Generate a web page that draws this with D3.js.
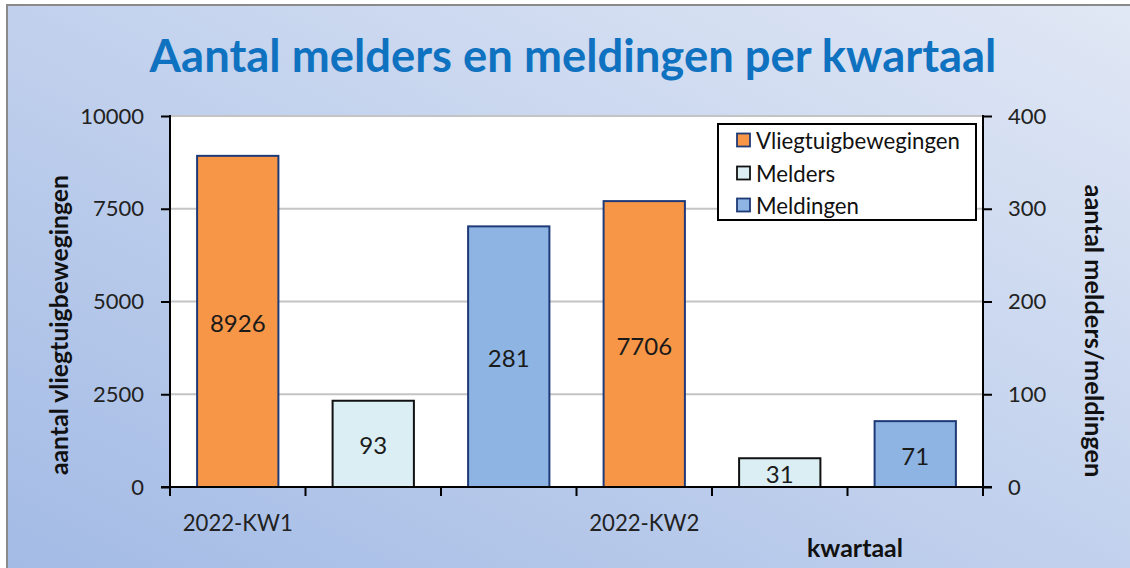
<!DOCTYPE html>
<html><head><meta charset="utf-8">
<script src="https://cdn.jsdelivr.net/npm/d3@7"></script>
<style>html,body{margin:0;padding:0;background:#fff;}svg{display:block;}</style>
</head><body>
<script>
const quarters = ["2022-KW1", "2022-KW2"];
const vliegtuigbewegingen = [8926, 7706];
const melders = [93, 31];
const meldingen = [281, 71];
const leftTicks = [0, 2500, 5000, 7500, 10000];
const rightTicks = [0, 100, 200, 300, 400];
const seriesNames = ["Vliegtuigbewegingen", "Melders", "Meldingen"];
const title = "Aantal melders en meldingen per kwartaal";

const W = 1130, H = 568;
const FONT = "Lato, 'Open Sans', sans-serif";
const colors = {Vliegtuigbewegingen: "#F79646", Melders: "#DAEEF3", Meldingen: "#8DB4E2"};
const strokes = {Vliegtuigbewegingen: "#1F3A78", Melders: "#111111", Meldingen: "#1F3A78"};

const svg = d3.select("body").append("svg").attr("width", W).attr("height", H);
const defs = svg.append("defs");
const grad = defs.append("linearGradient").attr("id", "bg")
  .attr("x1", "100%").attr("y1", "0%").attr("x2", "0%").attr("y2", "100%");
grad.append("stop").attr("offset", "0%").attr("stop-color", "#e1e8f5");
grad.append("stop").attr("offset", "100%").attr("stop-color", "#a2bae5");

svg.append("rect").attr("x", 0).attr("y", 0).attr("width", W).attr("height", H).attr("fill", "#ffffff");
svg.append("rect").attr("x", 7).attr("y", 5).attr("width", W + 10).attr("height", H + 10)
  .attr("fill", "url(#bg)").attr("stroke", "#8a8a8a").attr("stroke-width", 2);

const L = 170, R = 983, T = 116, B = 487;

function fit(sel, target) {
  let fs = parseFloat(sel.attr("font-size"));
  for (let i = 0; i < 3; i++) {
    const w = sel.node().getComputedTextLength();
    if (w > 0) { fs = fs * target / w; sel.attr("font-size", fs); }
  }
  return fs;
}

// slots: each quarter has three series
const slots = [];
quarters.forEach((q, qi) => {
  slots.push({q, qi, series: "Vliegtuigbewegingen", value: vliegtuigbewegingen[qi], axis: "L", id: q + "|0"});
  slots.push({q, qi, series: "Melders", value: melders[qi], axis: "R", id: q + "|1"});
  slots.push({q, qi, series: "Meldingen", value: meldingen[qi], axis: "R", id: q + "|2"});
});

const x = d3.scaleBand().domain(slots.map(d => d.id)).range([L, R]).paddingInner(0.4).paddingOuter(0.2);
const yL = d3.scaleLinear().domain([0, 10000]).range([B, T]);
const yR = d3.scaleLinear().domain([0, 400]).range([B, T]);

// plot area
svg.append("rect").attr("x", L).attr("y", T).attr("width", R - L).attr("height", B - T).attr("fill", "#ffffff");

// gridlines
svg.append("g").selectAll("line").data(leftTicks.filter(d => d > 0)).join("line")
  .attr("x1", L).attr("x2", R).attr("y1", d => yL(d)).attr("y2", d => yL(d))
  .attr("stroke", "#c4c4c4").attr("stroke-width", 1.8);

// bars
svg.append("g").selectAll("rect").data(slots).join("rect")
  .attr("x", d => x(d.id)).attr("width", x.bandwidth())
  .attr("y", d => (d.axis === "L" ? yL : yR)(d.value))
  .attr("height", d => B - (d.axis === "L" ? yL : yR)(d.value))
  .attr("fill", d => colors[d.series]).attr("stroke", d => strokes[d.series]).attr("stroke-width", 2);

// bar labels
svg.append("g").selectAll("text").data(slots).join("text")
  .attr("x", d => x(d.id) + x.bandwidth() / 2)
  .attr("y", d => ((d.axis === "L" ? yL : yR)(d.value) + B) / 2 + 1)
  .attr("text-anchor", "middle").attr("dominant-baseline", "central")
  .attr("font-family", FONT).attr("font-size", 24).attr("fill", "#1a1a1a")
  .text(d => d.value);

// axes
const axisColor = "#000";
const leftAxis = svg.append("g").attr("transform", `translate(${L},0)`)
  .call(d3.axisLeft(yL).tickValues(leftTicks).tickSize(9).tickPadding(17).tickFormat(d3.format("d")));
const rightAxis = svg.append("g").attr("transform", `translate(${R},0)`)
  .call(d3.axisRight(yR).tickValues(rightTicks).tickSize(9).tickPadding(16).tickFormat(d3.format("d")));
[leftAxis, rightAxis].forEach(a => {
  a.select(".domain").remove();
  a.selectAll(".tick line").attr("stroke", axisColor).attr("stroke-width", 2);
  a.selectAll(".tick text").attr("font-family", FONT).attr("font-size", 22).attr("fill", "#222");
});
svg.append("line").attr("x1", L).attr("x2", L).attr("y1", T - 1).attr("y2", B + 1).attr("stroke", axisColor).attr("stroke-width", 2);
svg.append("line").attr("x1", R).attr("x2", R).attr("y1", T - 1).attr("y2", B + 1).attr("stroke", axisColor).attr("stroke-width", 2);

// x axis line + ticks at slot boundaries
svg.append("line").attr("x1", L - 9).attr("x2", R + 9).attr("y1", B).attr("y2", B).attr("stroke", axisColor).attr("stroke-width", 2);
const step = x.step();
const bounds = d3.range(slots.length + 1).map(i => x(slots[0].id) - step * x.paddingOuter() + i * step);
svg.append("g").selectAll("line").data(bounds).join("line")
  .attr("x1", d => d).attr("x2", d => d).attr("y1", B).attr("y2", B + 9)
  .attr("stroke", axisColor).attr("stroke-width", 2);

// quarter labels under first slot of each quarter
const ql = svg.append("g").selectAll("text").data(quarters).join("text")
  .attr("x", (q) => x(q + "|0") + x.bandwidth() / 2)
  .attr("y", 531).attr("text-anchor", "middle")
  .attr("font-family", FONT).attr("font-size", 22).attr("fill", "#222").text(d => d);
const qfs = fit(d3.select(ql.nodes()[0]), 110);
ql.attr("font-size", qfs);

// title
const t = svg.append("text").attr("x", 573).attr("y", 72).attr("text-anchor", "middle")
  .attr("font-family", FONT).attr("font-weight", "bold").attr("font-size", 40).attr("fill", "#0F72C0").text(title);
fit(t, 847);

// axis titles
const lt = svg.append("text").attr("transform", "translate(68,325) rotate(-90)").attr("text-anchor", "middle")
  .attr("font-family", FONT).attr("font-weight", "bold").attr("font-size", 19).attr("fill", "#111").text("aantal vliegtuigbewegingen");
fit(lt, 300);
const rt = svg.append("text").attr("transform", "translate(1085,331) rotate(90)").attr("text-anchor", "middle")
  .attr("font-family", FONT).attr("font-weight", "bold").attr("font-size", 19).attr("fill", "#111").text("aantal melders/meldingen");
fit(rt, 293);
const xt = svg.append("text").attr("x", 855).attr("y", 557).attr("text-anchor", "middle")
  .attr("font-family", FONT).attr("font-weight", "bold").attr("font-size", 19).attr("fill", "#111").text("kwartaal");
fit(xt, 96);

// legend
const lg = svg.append("g");
lg.append("rect").attr("x", 718).attr("y", 124).attr("width", 258).attr("height", 96)
  .attr("fill", "#fff").attr("stroke", "#000").attr("stroke-width", 2);
const rowsY = [140, 173, 205];
const ltexts = [];
seriesNames.forEach((s, i) => {
  lg.append("rect").attr("x", 737).attr("y", rowsY[i] - 6.5).attr("width", 13).attr("height", 13)
    .attr("fill", colors[s]).attr("stroke", strokes[s]).attr("stroke-width", 1.8);
  ltexts.push(lg.append("text").attr("x", 756).attr("y", rowsY[i]).attr("dominant-baseline", "central")
    .attr("font-family", FONT).attr("font-size", 20).attr("fill", "#111").text(s));
});
const lfs = fit(ltexts[0], 204);
ltexts.forEach(tx => tx.attr("font-size", lfs));
</script>
</body></html>
